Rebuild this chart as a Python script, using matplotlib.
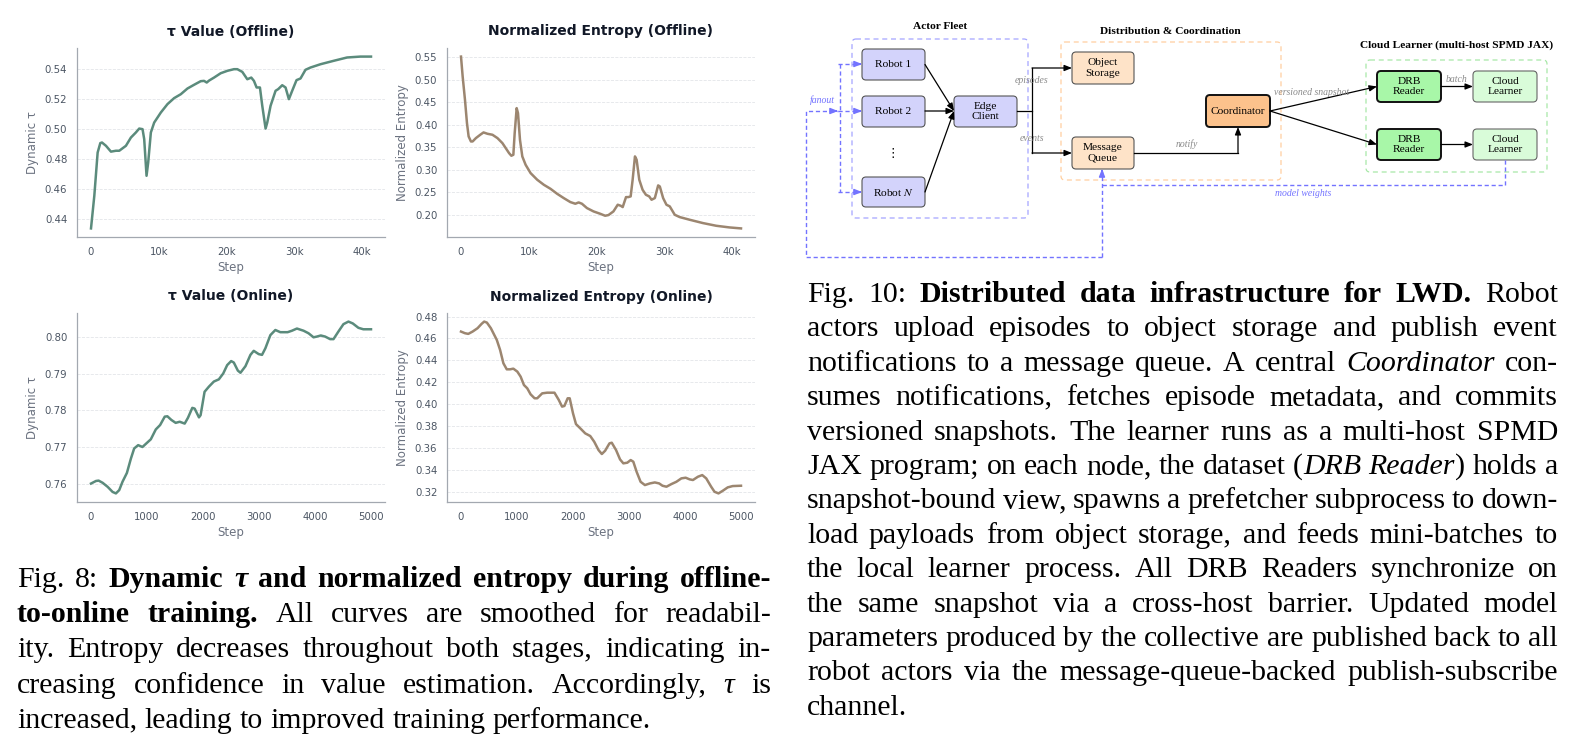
import matplotlib
matplotlib.use("Agg")
import matplotlib.pyplot as plt
from matplotlib.patches import FancyBboxPatch
from matplotlib.ticker import FuncFormatter, MultipleLocator

W, H = 1571, 753

# ---- data ----
tau_off_step = [0, 490, 980, 1374, 1620, 2209, 2945, 3681, 4172, 5153, 5890, 6626, 7117, 7607,
                7853, 8197, 8442, 8835, 9326, 10307, 11288, 12270, 13252, 14233, 15215, 16196,
                16687, 17080, 17423, 18160, 19141, 20123, 21104, 21595, 22331, 23067, 23656,
                24049, 24442, 24933, 25277, 25768, 26013, 26504, 27240, 27633, 28222, 28713,
                29204, 29695, 30333, 30922, 31658, 32394, 33866, 35830, 37793, 39756, 41326]
tau_off = [0.4338, 0.4556, 0.4844, 0.4907, 0.4911, 0.4889, 0.4850, 0.4856, 0.4856, 0.4889,
           0.4944, 0.4978, 0.5004, 0.5000, 0.4933, 0.4689, 0.4778, 0.4978, 0.5044, 0.5111,
           0.5167, 0.5207, 0.5233, 0.5271, 0.5296, 0.5320, 0.5322, 0.5311, 0.5324, 0.5344,
           0.5373, 0.5389, 0.5400, 0.5400, 0.5382, 0.5333, 0.5344, 0.5322, 0.5278, 0.5278,
           0.5156, 0.5004, 0.5044, 0.5156, 0.5256, 0.5267, 0.5293, 0.5278, 0.5200, 0.5256,
           0.5327, 0.5338, 0.5396, 0.5411, 0.5433, 0.5456, 0.5478, 0.5484, 0.5484]

ent_off_step = [0, 245, 587, 880, 1125, 1467, 1712, 2200, 2836, 3325, 3912, 4646, 5379, 6113,
                6602, 7091, 7433, 7726, 7922, 8215, 8411, 8704, 9047, 9536, 10269, 11247, 12225,
                13203, 14181, 15159, 16137, 16871, 17360, 17849, 18582, 19560, 20538, 21272,
                21761, 22494, 23130, 23570, 23863, 24352, 24695, 25037, 25330, 25672, 25917,
                26308, 26797, 27286, 27775, 28118, 28607, 29096, 29340, 29829, 30318, 30807,
                31541, 32274, 33741, 35697, 37653, 39609, 41321]
ent_off = [0.552, 0.5077, 0.4558, 0.4040, 0.3743, 0.3631, 0.3631, 0.3706, 0.3780, 0.3832,
           0.3802, 0.3780, 0.3706, 0.3594, 0.3483, 0.3372, 0.3313, 0.3335, 0.3817, 0.4373,
           0.4262, 0.3668, 0.3298, 0.3112, 0.2927, 0.2779, 0.2667, 0.2578, 0.2467, 0.2371,
           0.2282, 0.2245, 0.2274, 0.2245, 0.2149, 0.2074, 0.2022, 0.1978, 0.1993, 0.2074,
           0.2223, 0.2200, 0.2171, 0.2393, 0.2393, 0.2408, 0.2779, 0.3298, 0.3224, 0.2779,
           0.2556, 0.2445, 0.2408, 0.2334, 0.2371, 0.2653, 0.2630, 0.2371, 0.2223, 0.2186,
           0.2000, 0.1948, 0.1889, 0.1815, 0.1755, 0.1718, 0.1696]

tau_on_step = [0, 89, 136, 208, 297, 386, 445, 504, 563, 641, 712, 771, 842, 919, 990, 1068,
               1157, 1234, 1317, 1364, 1435, 1512, 1584, 1673, 1732, 1809, 1851, 1928, 1957,
               2028, 2105, 2194, 2283, 2361, 2432, 2503, 2550, 2622, 2669, 2758, 2847, 2906,
               2995, 3054, 3114, 3203, 3292, 3381, 3511, 3588, 3677, 3796, 3885, 3974, 4033,
               4104, 4181, 4270, 4330, 4419, 4508, 4597, 4674, 4775, 4863, 5000]
tau_on = [0.7600, 0.7607, 0.7608, 0.7602, 0.7591, 0.7577, 0.7573, 0.7582, 0.7605, 0.7629,
          0.7668, 0.7696, 0.7705, 0.7700, 0.7710, 0.7721, 0.7748, 0.7760, 0.7783, 0.7784,
          0.7774, 0.7766, 0.7769, 0.7764, 0.7780, 0.7807, 0.7805, 0.7781, 0.7787, 0.7851,
          0.7865, 0.7879, 0.7885, 0.7901, 0.7924, 0.7935, 0.7931, 0.7909, 0.7903, 0.7921,
          0.7952, 0.7963, 0.7954, 0.7952, 0.7970, 0.8006, 0.8020, 0.8014, 0.8014, 0.8018,
          0.8024, 0.8018, 0.8011, 0.8000, 0.8002, 0.8005, 0.8002, 0.7995, 0.7995, 0.8016,
          0.8036, 0.8043, 0.8038, 0.8026, 0.8022, 0.8022]

ent_on_step = [0, 71, 130, 207, 296, 367, 414, 462, 533, 639, 698, 757, 817, 876, 935, 1006,
               1065, 1124, 1183, 1243, 1314, 1361, 1450, 1538, 1627, 1669, 1746, 1805, 1846,
               1905, 1941, 2000, 2053, 2130, 2219, 2308, 2379, 2456, 2515, 2574, 2651, 2692,
               2769, 2840, 2899, 2970, 3030, 3077, 3136, 3207, 3284, 3373, 3461, 3538, 3598,
               3669, 3757, 3846, 3935, 4012, 4083, 4142, 4231, 4308, 4379, 4467, 4527, 4598,
               4674, 4763, 4852, 5000]
ent_on = [0.4663, 0.4648, 0.4642, 0.4663, 0.4694, 0.4733, 0.4754, 0.4745, 0.4694, 0.4587,
          0.4496, 0.4374, 0.4319, 0.4319, 0.4325, 0.4298, 0.4252, 0.4176, 0.4146, 0.4091,
          0.4055, 0.4055, 0.4100, 0.4106, 0.4106, 0.4106, 0.4040, 0.3979, 0.3985, 0.4055,
          0.4055, 0.3918, 0.3820, 0.3781, 0.3735, 0.3711, 0.3659, 0.3583, 0.3547, 0.3577,
          0.3644, 0.3650, 0.3583, 0.3498, 0.3462, 0.3468, 0.3492, 0.3477, 0.3385, 0.3294,
          0.3264, 0.3279, 0.3288, 0.3279, 0.3258, 0.3249, 0.3273, 0.3294, 0.3325, 0.3331,
          0.3316, 0.3310, 0.3340, 0.3355, 0.3325, 0.3249, 0.3203, 0.3188, 0.3212, 0.3243,
          0.3255, 0.3258]

TAU_COLOR = "#5b8b7c"
ENT_COLOR = "#9c8670"

caption_left = [
    "Fig. 8: **Dynamic _τ_ and normalized entropy during offline-**",
    "**to-online training.** All curves are smoothed for readabil-",
    "ity. Entropy decreases throughout both stages, indicating in-",
    "creasing confidence in value estimation. Accordingly, _τ_ is",
    "increased, leading to improved training performance.",
]
caption_right = [
    "Fig. 10: **Distributed data infrastructure for LWD.** Robot",
    "actors upload episodes to object storage and publish event",
    "notifications to a message queue. A central _Coordinator_ con-",
    "sumes notifications, fetches episode metadata, and commits",
    "versioned snapshots. The learner runs as a multi-host SPMD",
    "JAX program; on each node, the dataset (_DRB Reader_) holds a",
    "snapshot-bound view, spawns a prefetcher subprocess to down-",
    "load payloads from object storage, and feeds mini-batches to",
    "the local learner process. All DRB Readers synchronize on",
    "the same snapshot via a cross-host barrier. Updated model",
    "parameters produced by the collective are published back to all",
    "robot actors via the message-queue-backed publish-subscribe",
    "channel.",
]

plt.rcParams["mathtext.fontset"] = "stix"
fig = plt.figure(figsize=(W / 100, H / 100), dpi=100)


def px_axes(l, t, r, b):
    return fig.add_axes([l / W, 1 - b / H, (r - l) / W, (b - t) / H])


def kfmt(v, p):
    return "0" if v == 0 else f"{int(round(v / 1000))}k"


def style_ax(ax, title, ylabel, ystep, kticks):
    ax.set_title(title, fontsize=10, fontweight="bold", color="#111827", pad=9)
    ax.set_ylabel(ylabel, fontsize=8.5, color="#6b7280", labelpad=4)
    ax.set_xlabel("Step", fontsize=8.5, color="#6b7280", labelpad=3)
    for s in ["top", "right"]:
        ax.spines[s].set_visible(False)
    for s in ["left", "bottom"]:
        ax.spines[s].set_color("#a3a8b0")
        ax.spines[s].set_linewidth(0.9)
    ax.tick_params(length=0, pad=7, labelsize=7.3, labelcolor="#4b5563")
    ax.yaxis.set_major_locator(MultipleLocator(ystep))
    ax.yaxis.set_major_formatter(FuncFormatter(lambda v, p: f"{v:.2f}"))
    if kticks:
        ax.xaxis.set_major_locator(MultipleLocator(10000))
        ax.xaxis.set_major_formatter(FuncFormatter(kfmt))
    else:
        ax.xaxis.set_major_locator(MultipleLocator(1000))
    ax.grid(axis="y", color="#e3e5e9", ls="--", lw=0.6)
    ax.set_axisbelow(True)


ax1 = px_axes(77, 48, 385, 237)
ax1.plot(tau_off_step, tau_off, color=TAU_COLOR, lw=1.8)
style_ax(ax1, "τ Value (Offline)", "Dynamic τ", 0.02, True)

ax2 = px_axes(447, 48, 755, 237)
ax2.plot(ent_off_step, ent_off, color=ENT_COLOR, lw=1.8)
style_ax(ax2, "Normalized Entropy (Offline)", "Normalized Entropy", 0.05, True)

ax3 = px_axes(77, 313, 385, 502)
ax3.plot(tau_on_step, tau_on, color=TAU_COLOR, lw=1.8)
style_ax(ax3, "τ Value (Online)", "Dynamic τ", 0.01, False)

ax4 = px_axes(447, 313, 755, 502)
ax4.plot(ent_on_step, ent_on, color=ENT_COLOR, lw=1.8)
style_ax(ax4, "Normalized Entropy (Online)", "Normalized Entropy", 0.02, False)

# ---- overlay in pixel coordinates for the diagram and captions ----
ov = fig.add_axes([0, 0, 1, 1])
ov.set_xlim(0, W)
ov.set_ylim(H, 0)
ov.axis("off")

SERIF = ["Liberation Serif", "DejaVu Serif"]
BLUE = "#7373ff"
GRAY = "#8a8a8a"


def node(x0, y0, x1, y1, text, fill, edge="#555555", lw=0.8):
    ov.add_patch(FancyBboxPatch((x0, y0), x1 - x0, y1 - y0,
                                boxstyle="round,pad=0,rounding_size=4",
                                fc=fill, ec=edge, lw=lw))
    ov.text((x0 + x1) / 2, (y0 + y1) / 2, text, ha="center", va="center",
            fontsize=8.2, family=SERIF, linespacing=1.25)


def group(x0, y0, x1, y1, color):
    ov.add_patch(FancyBboxPatch((x0, y0), x1 - x0, y1 - y0,
                                boxstyle="round,pad=0,rounding_size=4",
                                fc="none", ec=color, lw=0.9, ls=(0, (4, 3))))


def arrow(p0, p1, color="black", lw=0.9):
    ov.annotate("", xy=p1, xytext=p0,
                arrowprops=dict(arrowstyle="-|>,head_length=0.45,head_width=0.18",
                                color=color, lw=lw, shrinkA=0, shrinkB=0))


def dline(xs, ys):
    ov.plot(xs, ys, color=BLUE, lw=1.0, ls=(0, (3, 2)))


def dhead(p0, p1):
    dline([p0[0], p1[0]], [p0[1], p1[1]])
    dx, dy = p1[0] - p0[0], p1[1] - p0[1]
    n = (dx ** 2 + dy ** 2) ** 0.5
    arrow((p1[0] - dx / n * 3, p1[1] - dy / n * 3), p1, color=BLUE, lw=1.0)


def label(x, y, s, color=GRAY, size=7):
    ov.text(x, y, s, ha="center", va="center", fontsize=size, style="italic",
            family=SERIF, color=color)


group(852, 39, 1028, 218, "#a5a5ff")
group(1061, 42, 1281, 180, "#ffcfa0")
group(1366, 60, 1547, 172, "#a8e8a8")
ov.text(940, 26, "Actor Fleet", ha="center", va="center", fontsize=8.2,
        fontweight="bold", family=SERIF)
ov.text(1170, 31, "Distribution & Coordination", ha="center", va="center",
        fontsize=8.2, fontweight="bold", family=SERIF)
ov.text(1457, 45, "Cloud Learner (multi-host SPMD JAX)", ha="center", va="center",
        fontsize=8.2, fontweight="bold", family=SERIF)

ROBOT = "#d3d3fb"
node(862, 49, 925, 80, "Robot 1", ROBOT)
node(862, 96, 925, 127, "Robot 2", ROBOT)
node(862, 177, 925, 207, "Robot $N$", ROBOT)
ov.text(893, 153, "⋮", ha="center", va="center", fontsize=9, family=["DejaVu Sans"])
node(954, 96, 1017, 127, "Edge\nClient", ROBOT)
node(1072, 52, 1134, 84, "Object\nStorage", "#fee3c8")
node(1072, 137, 1134, 169, "Message\nQueue", "#fee3c8")
node(1206, 95, 1270, 127, "Coordinator", "#fcc28c", edge="#111111", lw=1.4)
node(1377, 71, 1441, 102, "DRB\nReader", "#a8f7a8", edge="#111111", lw=1.4)
node(1377, 129, 1441, 160, "DRB\nReader", "#a8f7a8", edge="#111111", lw=1.4)
node(1473, 71, 1537, 102, "Cloud\nLearner", "#d9fcd9", edge="#666666")
node(1473, 129, 1537, 160, "Cloud\nLearner", "#d9fcd9", edge="#666666")

arrow((925, 64.5), (954, 111))
arrow((925, 111), (954, 111))
arrow((925, 192), (954, 111))
ov.plot([1017, 1032], [111, 111], color="black", lw=0.9)
ov.plot([1032, 1032], [68, 153], color="black", lw=0.9)
arrow((1032, 68), (1072, 68))
arrow((1032, 153), (1072, 153))
ov.plot([1134, 1238], [153, 153], color="black", lw=0.9)
arrow((1238, 153), (1238, 127))
arrow((1270, 111), (1377, 86.5))
arrow((1270, 111), (1377, 144.5))
arrow((1441, 86.5), (1473, 86.5))
arrow((1441, 144.5), (1473, 144.5))

dline([1505, 1505, 1102], [160, 185, 185])
dline([1102, 1102], [257, 172])
dhead((1102, 175), (1102, 169))
dline([1102, 806, 806, 834], [257, 257, 111, 111])
dhead((830, 111), (838, 111))
dline([840, 840], [64, 192])
for yy in (64, 111, 192):
    dline([838, 856], [yy, yy])
    dhead((855, yy), (862, yy))

label(1032, 80, "episodes")
label(1032, 138, "events")
label(1187, 144, "notify")
label(1312, 92, "versioned snapshot")
label(1457, 79, "batch")
label(1303, 193, "model weights", color=BLUE)
label(822, 100, "fanout", color=BLUE)

# ---- justified captions ----
CAP_SIZE = 21.5
renderer = fig.canvas.get_renderer()


def parse(line):
    chars, bold, ital, i = [], False, False, 0
    while i < len(line):
        if line.startswith("**", i):
            bold = not bold
            i += 2
            continue
        if line[i] == "_":
            ital = not ital
            i += 1
            continue
        chars.append((line[i], bold, ital))
        i += 1
    words, cur = [], []
    for ch, b, it in chars:
        if ch == " ":
            if cur:
                words.append(cur)
                cur = []
        elif cur and cur[-1][1:] == (b, it):
            cur[-1] = (cur[-1][0] + ch, b, it)
        else:
            cur.append((ch, b, it))
    if cur:
        words.append(cur)
    return words


def caption(lines, x0, x1, y0, step):
    space = 0.25 * CAP_SIZE * 100 / 72
    for k, line in enumerate(lines):
        words = parse(line)
        placed = []
        for w in words:
            pieces = []
            for s, b, it in w:
                t = ov.text(0, y0 + k * step, s, fontsize=CAP_SIZE, family=SERIF,
                            fontweight="bold" if b else "normal",
                            style="italic" if it else "normal", va="baseline")
                pieces.append((t, t.get_window_extent(renderer).width))
            placed.append(pieces)
        widths = [sum(wd for _, wd in p) for p in placed]
        if k == len(lines) - 1 or len(words) == 1:
            gap = space
        else:
            gap = (x1 - x0 - sum(widths)) / (len(words) - 1)
        x = x0
        for pieces, wd in zip(placed, widths):
            xx = x
            for t, pw in pieces:
                t.set_x(xx)
                xx += pw
            x += wd + gap


caption(caption_left, 17, 771, 587, 35.2)
caption(caption_right, 807, 1558, 302, 34.4)

fig.savefig("out.png", dpi=100)
